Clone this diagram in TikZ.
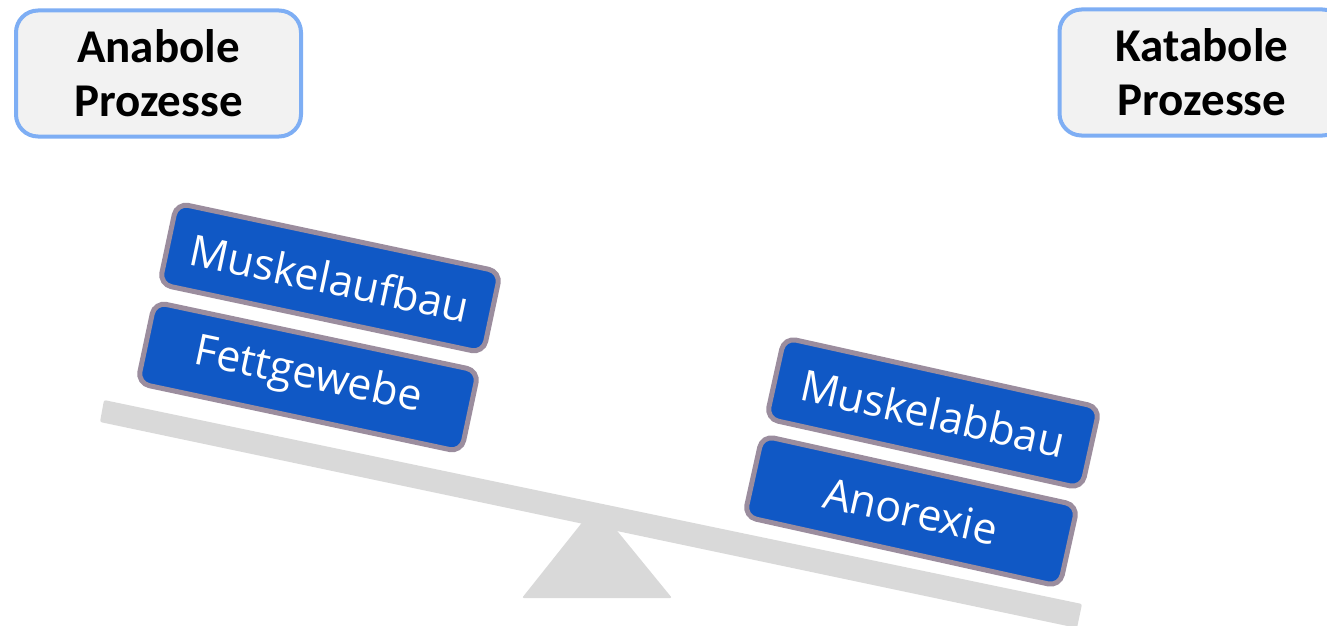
\documentclass[tikz,border=0pt]{standalone}
\usepackage{fontspec}
\setmainfont{Carlito}
\newfontfamily\weightfont{Open Sans}
\usetikzlibrary{positioning}
\definecolor{boxblue}{HTML}{1058C5}
\definecolor{boxrim}{HTML}{9B8D9E}
\definecolor{headrim}{HTML}{7EAEF4}
\definecolor{headfill}{HTML}{F2F2F2}
\definecolor{beamgray}{HTML}{D9D9D9}
\tikzset{
  headbox/.style={
    rectangle, draw=headrim, fill=headfill, line width=4pt, rounded corners=22pt,
    minimum width=285pt, minimum height=126pt, align=center,
    font=\fontsize{47}{54}\selectfont\bfseries
  },
  weightbox/.style={
    rectangle, draw=boxrim, fill=boxblue, line width=5pt, rounded corners=12pt,
    minimum width=327pt, minimum height=83pt, text=white,
    font=\weightfont\fontsize{43}{50}\selectfont, rotate=-12
  },
  beam/.style={fill=beamgray, rounded corners=2pt}
}

\begin{document}
\begin{tikzpicture}[x=1pt, y=-1pt]
    \useasboundingbox (0,0) rectangle (1327,626);
    \clip (0,0) rectangle (1327,626);
    % seesaw
    \fill[beam] (522,598) -- (596,505) -- (672,598) -- cycle;
    \fill[beam] (104,400) -- (1082,604) -- (1077,628) -- (100,422) -- cycle;
    % headings
    \node[headbox] (anabol) at (158.5,73.5) {Anabole\\Prozesse};
    \node[headbox] (katabol) at (1202,72.5) {Katabole\\Prozesse};
    % weights
    \node[weightbox, minimum width=331pt] (aufbau) at (330,278) {Muskelaufbau};
    \node[weightbox, minimum width=331pt] (fett) at (308,377) {Fettgewebe};
    \node[weightbox, minimum width=323pt, rotate=-0.5] (abbau) at (933,413) {Muskelabbau};
    \node[weightbox, minimum width=323pt, rotate=-0.5] (anorexie) at (911,511) {Anorexie};
\end{tikzpicture}
\end{document}
